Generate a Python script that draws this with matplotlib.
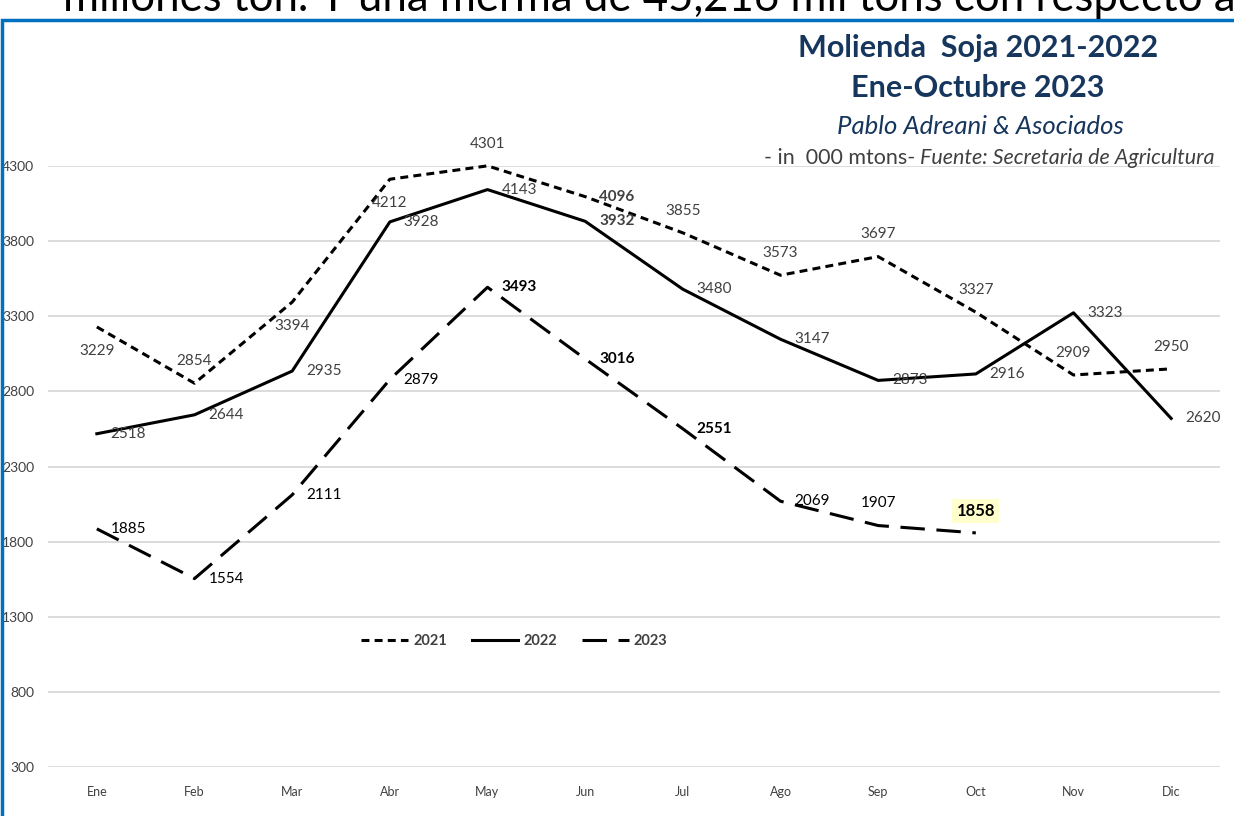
import matplotlib.pyplot as plt
import matplotlib as mpl
from matplotlib.patches import Rectangle

mpl.rcParams['font.family'] = ['Lato', 'DejaVu Sans']

# datos (miles de toneladas)
meses = ['Ene', 'Feb', 'Mar', 'Abr', 'May', 'Jun', 'Jul', 'Ago', 'Sep', 'Oct', 'Nov', 'Dic']
v2021 = [3229, 2854, 3394, 4212, 4301, 4096, 3855, 3573, 3697, 3327, 2909, 2950]
v2022 = [2518, 2644, 2935, 3928, 4143, 3932, 3480, 3147, 2873, 2916, 3323, 2620]
v2023 = [1885, 1554, 2111, 2879, 3493, 3016, 2551, 2069, 1907, 1858]
yticks = [300, 800, 1300, 1800, 2300, 2800, 3300, 3800, 4300]

# donde va cada etiqueta
pos2021 = ['below', 'above', 'below', 'below', 'above', 'right', 'above', 'above', 'above', 'above', 'above', 'above']
pos2022 = ['right'] * 12
pos2023 = ['right'] * 8 + ['above', 'above']
bold2021 = [5]
bold2022 = [5]
bold2023 = [4, 5, 6, 9]

GRIS = '#404040'
AZUL = '#17365D'

fig = plt.figure(figsize=(12.34, 8.16), dpi=100)
ax = fig.add_axes([48/1234, 49/816, 1172/1234, 601/816])

x = list(range(len(meses)))
lw = 2.2
ax.plot(x, v2021, color='k', lw=lw, dashes=(2.6, 1.7), clip_on=False, label='2021')
ax.plot(x, v2022, color='k', lw=lw, clip_on=False, label='2022')
ax.plot(x[:len(v2023)], v2023, color='k', lw=lw, dashes=(8, 3.8), clip_on=False, label='2023')

ax.set_xlim(-0.5, 11.5)
ax.set_ylim(300, 4300)
ax.set_yticks(yticks)
ax.set_xticks(x)
ax.set_xticklabels(meses)
ax.grid(axis='y', color='#d9d9d9', lw=1.3)
ax.set_axisbelow(True)
for s in ax.spines.values():
    s.set_visible(False)
ax.tick_params(length=0)
ax.tick_params(axis='y', labelsize=10, labelcolor=GRIS, pad=10)
ax.tick_params(axis='x', labelsize=9, labelcolor=GRIS, pad=14)


def etiqueta(xi, yi, pos, color, bold, caja=False):
    if pos == 'above':
        off, ha = (0, 16), 'center'
    elif pos == 'below':
        off, ha = (0, -17), 'center'
    else:
        off, ha = (10, 0), 'left'
    kw = {}
    size = 11
    if caja:
        kw['bbox'] = dict(boxstyle='square,pad=0.25', fc='#FFFFCC', ec='none')
        size = 12
    ax.annotate(str(yi), (xi, yi), xytext=off, textcoords='offset points',
                ha=ha, va='center', fontsize=size, color=color,
                fontweight='bold' if bold else 'normal', annotation_clip=False, **kw)


for i, v in enumerate(v2021):
    etiqueta(i, v, pos2021[i], GRIS, i in bold2021)
for i, v in enumerate(v2022):
    etiqueta(i, v, pos2022[i], GRIS, i in bold2022)
for i, v in enumerate(v2023):
    etiqueta(i, v, pos2023[i], 'k', i in bold2023, caja=(i == len(v2023) - 1))

leg = ax.legend(loc='center', bbox_to_anchor=(0.398, 0.21), ncol=3, frameon=False,
                handlelength=3.2, handletextpad=0.35, columnspacing=1.7,
                prop={'weight': 'bold', 'size': 10.5})
for t in leg.get_texts():
    t.set_color(GRIS)

# titulos
fig.text(978/1234, 1 - 48/816, 'Molienda  Soja 2021-2022', ha='center', va='center',
         fontsize=22, fontweight='bold', color=AZUL)
fig.text(978/1234, 1 - 88/816, 'Ene-Octubre 2023', ha='center', va='center',
         fontsize=22, fontweight='bold', color=AZUL)
fig.text(980/1234, 1 - 126/816, 'Pablo Adreani & Asociados', ha='center', va='center',
         fontsize=18.5, style='italic', color=AZUL)
fuente = fig.text(1215/1234, 1 - 158/816, 'Fuente: Secretaria de Agricultura', ha='right',
                  va='center', fontsize=15.5, style='italic', color=GRIS)
ax.annotate('- in  000 mtons- ', xy=(0, 0.5), xycoords=fuente, ha='right', va='center',
            fontsize=15.5, color=GRIS, annotation_clip=False)

# texto cortado arriba
fig.text(63/1234, 1 - 11/816, 'millones ton. Y una merma de 45,216 mil tons con respecto a',
         ha='left', va='baseline', fontsize=31.5, color='k')

# marco azul
fig.patches.append(Rectangle((2/1234, -0.05), 1.2, 1 - 20/816 + 0.05, transform=fig.transFigure,
                             fill=False, ec='#0070C0', lw=2.5))

fig.savefig('out.png', dpi=100)
